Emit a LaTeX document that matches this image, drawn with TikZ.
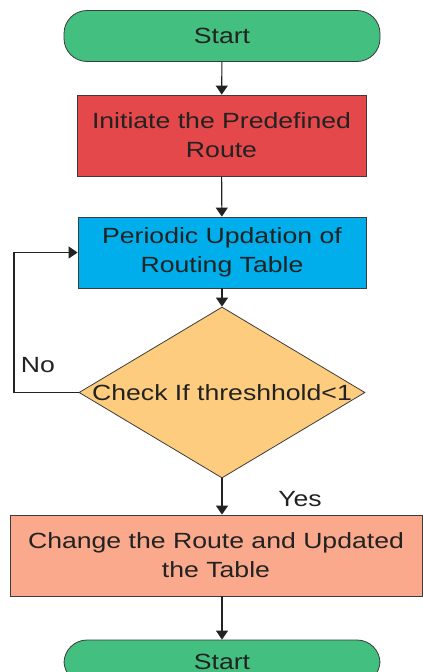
\documentclass[tikz,border=0pt]{standalone}
\usepackage{fontspec}
\setmainfont{Liberation Sans}[FakeStretch=1.21]
\usetikzlibrary{shapes.geometric,arrows.meta}

\definecolor{termgreen}{RGB}{67,192,128}
\definecolor{initred}{RGB}{229,72,74}
\definecolor{updblue}{RGB}{0,174,236}
\definecolor{chkorange}{RGB}{253,204,126}
\definecolor{chgsalmon}{RGB}{250,169,140}
\definecolor{inkdark}{RGB}{34,34,34}
\definecolor{edgegray}{RGB}{60,60,60}

\tikzset{
  every node/.style={font=\fontsize{22}{29}\selectfont, text=inkdark},
  terminal/.style={draw=edgegray, line width=0.8pt, fill=termgreen,
    rounded corners=23pt, minimum width=316pt, inner sep=0pt},
  procbox/.style={draw=edgegray, line width=0.8pt, rectangle, align=center,
    inner sep=0pt},
  decision/.style={draw=edgegray, line width=0.8pt, diamond, fill=chkorange,
    minimum width=286pt, minimum height=171pt, inner sep=0pt},
  flow/.style={draw=inkdark, line width=1.1pt,
    -{Triangle[width=12pt,length=9pt]}},
  edgelabel/.style={inner sep=0pt}
}

\begin{document}
\begin{tikzpicture}[x=1pt, y=-1pt]
  \useasboundingbox (0,0) rectangle (423,672);
  \clip (0,0) rectangle (423,672);

  % process blocks
  \node[terminal, minimum height=51pt] (start) at (222,36) {Start};
  \node[procbox, fill=initred, minimum width=289pt, minimum height=81pt]
    (init) at (221.5,135.5) {Initiate the Predefined\\Route};
  \node[procbox, fill=updblue, minimum width=288pt, minimum height=71pt]
    (upd) at (222,252.5) {Periodic Updation of\\Routing Table};
  \node[decision] (chk) at (222,392.5) {\makebox[0pt]{Check If threshhold<1}};
  \node[procbox, fill=chgsalmon, minimum width=412pt, minimum height=81pt]
    (chg) at (216,555.5) {Change the Route and Updated\\the Table};
  \node[terminal, minimum height=44pt] (stop) at (222,662) {Start};

  % connectors
  \draw[flow] (start) -- (init);
  \draw[flow] (init) -- (upd);
  \draw[flow] (upd) -- (chk);
  \draw[flow] (chk.south) -- (chk.south |- chg.north);
  \draw[flow] (chg.south -| stop.north) -- (stop);

  % feedback loop for the "No" branch
  \coordinate (loop) at (14,392.5);
  \draw[flow] (chk.west) -- (loop) |- (upd.west);

  % branch labels
  \node[edgelabel] (nolbl) at (38,365) {No};
  \node[edgelabel] (yeslbl) at (300,499) {Yes};
\end{tikzpicture}
\end{document}
